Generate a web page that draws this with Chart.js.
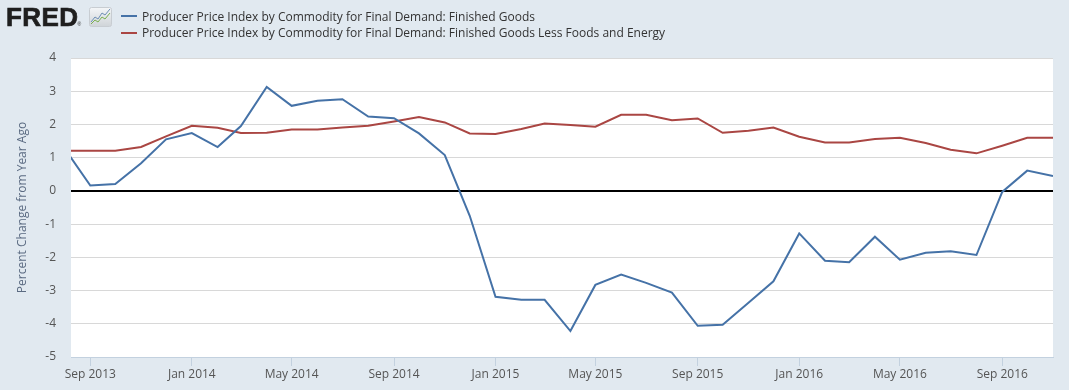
<!DOCTYPE html>
<html>
<head>
<meta charset="utf-8">
<script src="https://cdn.jsdelivr.net/npm/chart.js@4.4.1/dist/chart.umd.min.js"></script>
<style>
  html, body { margin: 0; padding: 0; background: #e1e9f0; }
  #wrap { position: relative; width: 1069px; height: 390px; overflow: hidden; background: #e1e9f0; font-family: 'Open Sans', sans-serif; }
  #c { position: absolute; left: 0; top: 0; }
  .logo { position: absolute; left: 6px; top: 4px; font-family: 'Liberation Sans', Arial, sans-serif; font-weight: bold; font-size: 26px; line-height: 26px; color: #1f1f1f; letter-spacing: 0.4px; -webkit-text-stroke: 0.7px #1f1f1f; }
  .logo sup { font-size: 5px; font-weight: normal; vertical-align: baseline; letter-spacing: 0; -webkit-text-stroke: 0; margin-left: -1px; }
  .icon { position: absolute; left: 89px; top: 7px; }
  .leg { position: absolute; left: 142px; font-size: 12px; line-height: 17px; color: #333; white-space: nowrap; }
  .sw { position: absolute; left: 121px; width: 16px; height: 2px; }
</style>
</head>
<body>
<div id="wrap">
  <canvas id="c" width="1069" height="390"></canvas>
  <div class="logo">FRED<sup>®</sup></div>
  <svg class="icon" width="23" height="20" viewBox="0 0 23 20">
    <defs><linearGradient id="g" x1="0" y1="0" x2="0" y2="1"><stop offset="0" stop-color="#f4f6f8"/><stop offset="1" stop-color="#cfd4d8"/></linearGradient></defs>
    <rect x="0.5" y="0.5" width="22" height="19" rx="2" fill="url(#g)" stroke="#c8cdd2"/>
    <polyline points="2,15 6,10 9,12 13,6 16,8 21,2" fill="none" stroke="#6e8fb5" stroke-width="1"/>
    <polyline points="2,17 6,13 9,15 13,10 16,12 21,6" fill="none" stroke="#7ab050" stroke-width="1"/>
  </svg>
  <div class="sw" style="top:15px; background:#4572a7;"></div>
  <div class="leg" style="top:8px;">Producer Price Index by Commodity for Final Demand: Finished Goods</div>
  <div class="sw" style="top:31.5px; background:#aa4643;"></div>
  <div class="leg" style="top:24px;">Producer Price Index by Commodity for Final Demand: Finished Goods Less Foods and Energy</div>
</div>
<script>
const months = [
  '2013-08','2013-09','2013-10','2013-11','2013-12',
  '2014-01','2014-02','2014-03','2014-04','2014-05','2014-06','2014-07','2014-08','2014-09','2014-10','2014-11','2014-12',
  '2015-01','2015-02','2015-03','2015-04','2015-05','2015-06','2015-07','2015-08','2015-09','2015-10','2015-11','2015-12',
  '2016-01','2016-02','2016-03','2016-04','2016-05','2016-06','2016-07','2016-08','2016-09','2016-10','2016-11'
];
const finishedGoods = [
  1.28, 0.16, 0.21, 0.83, 1.55,
  1.74, 1.32, 1.95, 3.13, 2.56, 2.71, 2.76, 2.24, 2.19, 1.73, 1.08, -0.75,
  -3.19, -3.28, -3.28, -4.22, -2.83, -2.52, -2.77, -3.06, -4.06, -4.03, -3.37, -2.72,
  -1.28, -2.10, -2.15, -1.38, -2.07, -1.86, -1.82, -1.93, -0.03, 0.61, 0.45
];
const lessFoodEnergy = [
  1.21, 1.21, 1.21, 1.32, 1.64,
  1.96, 1.90, 1.74, 1.75, 1.85, 1.85, 1.91, 1.96, 2.09, 2.22, 2.06, 1.73,
  1.71, 1.86, 2.03, 1.98, 1.93, 2.29, 2.29, 2.13, 2.18, 1.75, 1.81, 1.91,
  1.63, 1.46, 1.46, 1.56, 1.60, 1.44, 1.24, 1.13, 1.36, 1.60, 1.60
];
const tickMonths = ['2013-09','2014-01','2014-05','2014-09','2015-01','2015-05','2015-09','2016-01','2016-05','2016-09'];
const tickLabels = ['Sep 2013','Jan 2014','May 2014','Sep 2014','Jan 2015','May 2015','Sep 2015','Jan 2016','May 2016','Sep 2016'];
const seriesNames = [
  'Producer Price Index by Commodity for Final Demand: Finished Goods',
  'Producer Price Index by Commodity for Final Demand: Finished Goods Less Foods and Energy'
];

const ORIGIN = Date.UTC(2013, 7, 1);
function dayOf(m) {
  const [y, mo] = m.split('-').map(Number);
  return (Date.UTC(y, mo - 1, 1) - ORIGIN) / 86400000;
}
const xMax = dayOf('2016-11');
const xMin = 7.8;

const toPts = vals => months.map((m, i) => ({ x: dayOf(m), y: vals[i] }));

const plotBg = {
  id: 'plotBg',
  beforeDraw(chart) {
    const { ctx, chartArea: a } = chart;
    ctx.save();
    ctx.fillStyle = '#ffffff';
    ctx.fillRect(a.left, a.top, a.right - a.left, a.bottom - a.top);
    ctx.restore();
  }
};

Chart.defaults.font.family = "'Open Sans', sans-serif";
Chart.defaults.font.size = 12;

new Chart(document.getElementById('c'), {
  type: 'line',
  data: {
    datasets: [
      { label: seriesNames[0], data: toPts(finishedGoods), borderColor: '#4572a7', borderWidth: 2, pointRadius: 0, tension: 0, fill: false },
      { label: seriesNames[1], data: toPts(lessFoodEnergy), borderColor: '#aa4643', borderWidth: 2, pointRadius: 0, tension: 0, fill: false }
    ]
  },
  options: {
    responsive: false,
    animation: false,
    layout: { padding: { top: 58, right: 16, bottom: 0, left: 0 } },
    plugins: { legend: { display: false }, tooltip: { enabled: false } },
    scales: {
      x: {
        type: 'linear',
        min: xMin,
        max: xMax,
        afterFit(s) { s.height = 33; },
        afterBuildTicks(s) { s.ticks = tickMonths.map(m => ({ value: dayOf(m) })); },
        ticks: {
          autoSkip: false, maxRotation: 0, minRotation: 0, padding: 1, color: '#555',
          font: { size: 12 },
          callback: (v, i) => tickLabels[i]
        },
        grid: { drawOnChartArea: false, drawTicks: true, tickLength: 9, color: '#c3d1df' },
        border: { display: true, color: '#c3d1df', width: 1 }
      },
      y: {
        min: -5, max: 4,
        afterFit(s) { s.width = 71; },
        ticks: { stepSize: 1, padding: 15, color: '#555', font: { size: 12 } },
        grid: {
          drawTicks: false,
          color: c => (c.tick && c.tick.value === 0) ? '#000000' : '#d8d8d8',
          lineWidth: c => (c.tick && c.tick.value === 0) ? 2 : 1
        },
        border: { display: false },
        title: {
          display: true, text: 'Percent Change from Year Ago', color: '#5b6b82',
          font: { size: 12 }, padding: { top: 15, bottom: 0 }
        }
      }
    }
  },
  plugins: [plotBg]
});
</script>
</body>
</html>
